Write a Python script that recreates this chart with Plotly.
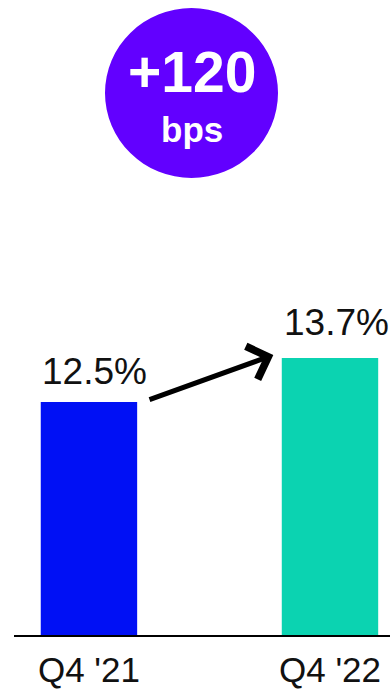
import plotly.graph_objects as go

# Data
categories = ["Q4 '21", "Q4 '22"]
values = [12.5, 13.7]
value_labels = ["12.5%", "13.7%"]
bar_colors = ["#0010F5", "#0BD3B1"]
badge_main = "+120"
badge_sub = "bps"

x_pos = [0, 1]

fig = go.Figure()
fig.add_trace(go.Bar(
    x=x_pos, y=values, width=0.4,
    marker=dict(color=bar_colors, line=dict(width=0)),
    hoverinfo="skip", showlegend=False,
))

# value labels above bars
label_shift = [8, 13]
for xi, v, t, s in zip(x_pos, values, value_labels, label_shift):
    fig.add_annotation(x=xi + 0.025, y=v, text=t, showarrow=False,
                       yanchor="bottom", yshift=s,
                       font=dict(family="Liberation Sans, Arial", size=37, color="#111111"))

# arrow from first to second
fig.add_annotation(
    x=0.765, y=values[1] + 0.08, ax=0.245, ay=values[0] + 0.05,
    xref="x", yref="y", axref="x", ayref="y",
    showarrow=True, arrowhead=4, arrowwidth=5, arrowsize=1.35,
    arrowcolor="#000000", standoff=0, startstandoff=0, text="",
)

# badge circle
fig.add_shape(type="circle", xref="paper", yref="paper",
              x0=(105 - 14) / 376, x1=(278 - 14) / 376,
              y0=(635 - 178) / 635, y1=(635 - 8) / 635,
              fillcolor="#6200FF", line=dict(width=0), layer="above")
fig.add_annotation(xref="paper", yref="paper", x=(192 - 14) / 376, y=(635 - 72) / 635,
                   text="<b>" + badge_main + "</b>", showarrow=False,
                   xanchor="center", yanchor="middle",
                   font=dict(family="Liberation Sans, Arial", size=57, color="white"))
fig.add_annotation(xref="paper", yref="paper", x=(192 - 14) / 376, y=(635 - 130) / 635,
                   text="<b>" + badge_sub + "</b>", showarrow=False,
                   xanchor="center", yanchor="middle",
                   font=dict(family="Liberation Sans, Arial", size=35, color="white"))

fig.update_layout(
    width=390, height=689,
    margin=dict(l=14, r=0, t=0, b=54),
    paper_bgcolor="white", plot_bgcolor="white",
    xaxis=dict(range=[-0.311, 1.249], tickvals=x_pos, ticktext=categories,
               showgrid=False, zeroline=False, showline=True,
               linecolor="#000000", linewidth=2, ticks="",
               ticklabelstandoff=3,
               tickfont=dict(family="Liberation Sans, Arial", size=35, color="#111111"),
               fixedrange=True),
    yaxis=dict(range=[6.145, 6.145 + 635 / 36.67], visible=False, showgrid=False,
               zeroline=False, fixedrange=True),
    showlegend=False,
)

fig.write_html("out.html", config={"displayModeBar": False})
